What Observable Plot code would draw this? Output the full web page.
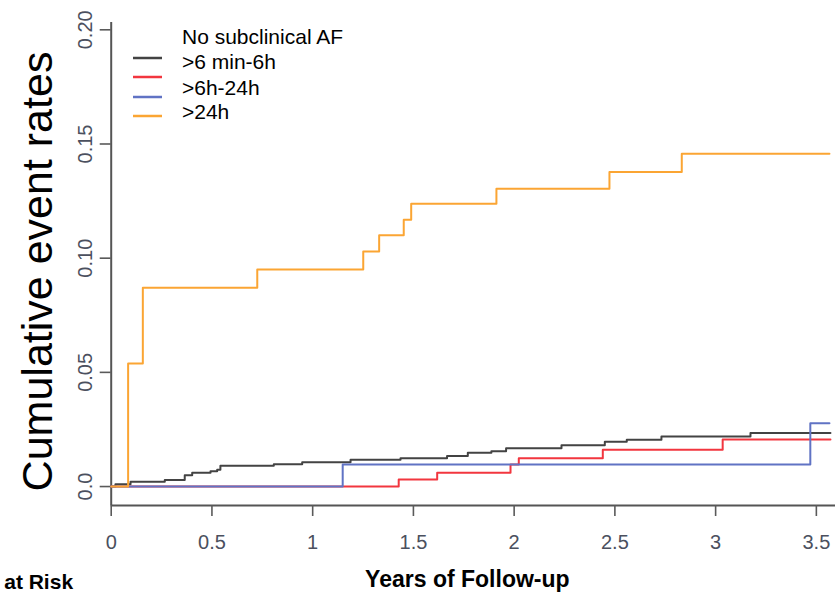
<!DOCTYPE html>
<html>
<head>
<meta charset="utf-8">
<script src="https://cdn.jsdelivr.net/npm/d3@7"></script>
<script src="https://cdn.jsdelivr.net/npm/@observablehq/plot@0.6"></script>
<style>
  html, body { margin: 0; padding: 0; background: #fff; }
  #chart { position: relative; width: 835px; height: 595px; overflow: hidden; }
</style>
</head>
<body>
<div id="chart"></div>
<script>
// Series labels and colours, in legend / drawing order
const seriesNames = ["No subclinical AF", ">6 min-6h", ">6h-24h", ">24h"];
const seriesColors = ["#434343", "#f2363f", "#6073c4", "#fba533"];

// Cumulative event rates (step functions): time of each step in years, and the level after it
const noAfYears  = [0, 0.021, 0.096, 0.266, 0.365, 0.402, 0.493, 0.526, 0.542, 0.807, 0.948, 1.188, 1.436, 1.667, 1.770, 1.887, 1.960, 2.235, 2.450, 2.559, 2.731, 3.173, 3.570];
const noAfRates  = [0, 0.0010, 0.0021, 0.0029, 0.0050, 0.0060, 0.0067, 0.0074, 0.0091, 0.0098, 0.0106, 0.0117, 0.0124, 0.0134, 0.0148, 0.0155, 0.0168, 0.0181, 0.0196, 0.0205, 0.0219, 0.0234, 0.0234];

const shortYears = [0, 1.427, 1.618, 1.982, 2.023, 2.440, 3.035, 3.570];
const shortRates = [0, 0.0031, 0.0060, 0.0096, 0.0124, 0.0161, 0.0206, 0.0206];

const midYears   = [0, 1.149, 3.470, 3.565];
const midRates   = [0, 0.0096, 0.0277, 0.0277];

const longYears  = [0, 0.084, 0.157, 0.725, 1.251, 1.330, 1.452, 1.489, 1.912, 2.473, 2.832, 3.565];
const longRates  = [0, 0.0539, 0.0870, 0.0950, 0.1029, 0.1100, 0.1168, 0.1238, 0.1304, 0.1377, 0.1457, 0.1457];

// Axis ticks
const xTicks = [0, 0.5, 1, 1.5, 2, 2.5, 3, 3.5];
const xTickLabels = ["0", "0.5", "1", "1.5", "2", "2.5", "3", "3.5"];
const yTicks = [0, 0.05, 0.10, 0.15, 0.20];
const yTickLabels = ["0.0", "0.05", "0.10", "0.15", "0.20"];

const xTitle = "Years of Follow-up";
const yTitle = "Cumulative event rates";
const riskTitle = "at Risk";

const seriesYears = [noAfYears, shortYears, midYears, longYears];
const seriesRates = [noAfRates, shortRates, midRates, longRates];

const series = seriesNames.map((name, k) =>
  seriesYears[k].map((t, i) => ({group: name, t, v: seriesRates[k][i]}))
);

const FONT = "'Liberation Sans', Arial, Helvetica, sans-serif";
const xDomain = [0, 3.595];
const yDomain = [-0.0083, 0.2032];

const plot = Plot.plot({
  width: 835,
  height: 595,
  marginLeft: 110.7,
  marginRight: 0,
  marginTop: 22,
  marginBottom: 90,
  style: {fontFamily: FONT, background: "#fff", overflow: "visible"},
  x: {domain: xDomain},
  y: {domain: yDomain},
  color: {domain: seriesNames, range: seriesColors},
  marks: [
    // L-shaped frame
    Plot.ruleX([xDomain[0]], {stroke: "#555", strokeWidth: 2}),
    Plot.ruleY([yDomain[0]], {stroke: "#555", strokeWidth: 2}),
    Plot.axisX({
      ticks: xTicks,
      tickFormat: d => xTickLabels[xTicks.indexOf(d)],
      tickSize: 11,
      tickPadding: 18,
      fontSize: 20,
      color: "#4b505e",
      stroke: "#5a5a5a",
      strokeWidth: 1.6,
      label: null
    }),
    Plot.axisY({
      ticks: yTicks,
      tickFormat: d => yTickLabels[yTicks.indexOf(d)],
      tickSize: 11,
      tickRotate: -90,
      tickPadding: 8,
      fontSize: 20,
      color: "#4b505e",
      stroke: "#5a5a5a",
      strokeWidth: 1.6,
      label: null
    }),
    ...series.map((rows, k) =>
      Plot.line(rows, {x: "t", y: "v", stroke: "group", curve: "step-after", strokeWidth: 2})
    ),
    Plot.text([xTitle], {text: d => d, frameAnchor: "bottom", textAnchor: "middle", dx: -6, dy: 81, fontSize: 23, fontWeight: "bold", fill: "#000"}),
    Plot.text([yTitle], {text: d => d, frameAnchor: "left", textAnchor: "middle", rotate: -90, dx: -73, dy: 7.5, fontSize: 43, fill: "#000"}),
    Plot.text([riskTitle], {text: d => d, frameAnchor: "bottom-left", textAnchor: "start", dx: -107, dy: 83, fontSize: 21, fontWeight: "bold", fill: "#000"})
  ]
});

// Legend drawn inside the plot area, top left
const svg = d3.select(plot);
const legend = svg.append("g")
  .attr("font-family", FONT)
  .attr("font-size", 21)
  .attr("text-anchor", "start");
const legendLineY = [58, 77, 97, 116];
const legendTextY = [44, 69, 95, 119];
seriesNames.forEach((name, i) => {
  legend.append("line")
    .attr("x1", 133).attr("x2", 162)
    .attr("y1", legendLineY[i]).attr("y2", legendLineY[i])
    .attr("stroke", seriesColors[i]).attr("stroke-width", 2.5);
  legend.append("text")
    .attr("x", 182).attr("y", legendTextY[i])
    .attr("fill", "#000")
    .text(name);
});

document.getElementById("chart").appendChild(plot);
</script>
</body>
</html>
